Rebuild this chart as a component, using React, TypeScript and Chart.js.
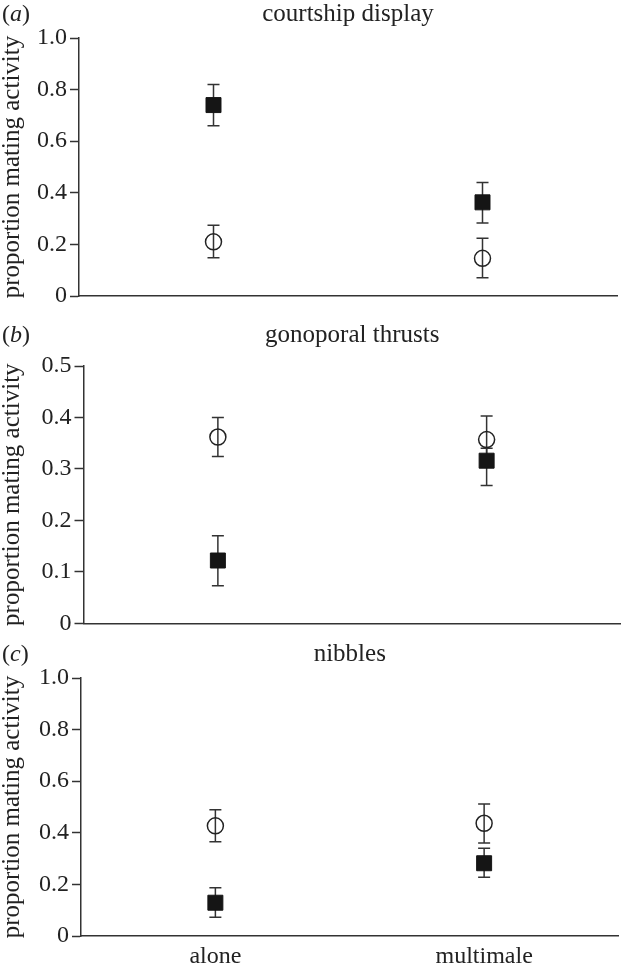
import React, { useEffect, useRef } from 'react';
import { Chart, registerables } from 'chart.js';

Chart.register(...registerables);

const FONT = "'Liberation Serif', 'Times New Roman', serif";

const categories = ['alone', 'multimale'];
const panelTitles = ['courtship display', 'gonoporal thrusts', 'nibbles'];
const panelLetters = ['a', 'b', 'c'];
const yAxisTitle = 'proportion mating activity';

// (a) courtship display
const courtshipFilled = [0.74, 0.363];
const courtshipFilledLow = [0.66, 0.283];
const courtshipFilledHigh = [0.82, 0.44];
const courtshipOpen = [0.21, 0.146];
const courtshipOpenLow = [0.148, 0.071];
const courtshipOpenHigh = [0.274, 0.224];

// (b) gonoporal thrusts
const thrustsFilled = [0.122, 0.316];
const thrustsFilledLow = [0.073, 0.268];
const thrustsFilledHigh = [0.17, 0.34];
const thrustsOpen = [0.362, 0.357];
const thrustsOpenLow = [0.324, 0.315];
const thrustsOpenHigh = [0.4, 0.403];

// (c) nibbles
const nibblesFilled = [0.129, 0.282];
const nibblesFilledLow = [0.073, 0.228];
const nibblesFilledHigh = [0.187, 0.34];
const nibblesOpen = [0.427, 0.437];
const nibblesOpenLow = [0.365, 0.36];
const nibblesOpenHigh = [0.489, 0.512];

const yMax = [1.0, 0.5, 1.0];
const yStep = [0.2, 0.1, 0.2];

const filledSeries = [
  [courtshipFilled, courtshipFilledLow, courtshipFilledHigh],
  [thrustsFilled, thrustsFilledLow, thrustsFilledHigh],
  [nibblesFilled, nibblesFilledLow, nibblesFilledHigh],
];
const openSeries = [
  [courtshipOpen, courtshipOpenLow, courtshipOpenHigh],
  [thrustsOpen, thrustsOpenLow, thrustsOpenHigh],
  [nibblesOpen, nibblesOpenLow, nibblesOpenHigh],
];

// layout geometry per panel (canvas-relative)
const geom = [
  { top: 0, h: 322, left: 79, right: 617, cTop: 38, cBottom: 296, titleBase: 21 },
  { top: 310, h: 332, left: 83.5, right: 621, cTop: 56, cBottom: 313.3, titleBase: 31.5 },
  { top: 630, h: 339, left: 81, right: 618.5, cTop: 48, cBottom: 306, titleBase: 30.5 },
];

const LINE = '#333';
const TEXT = '#222';

const errorBarPlugin = {
  id: 'errorBars',
  beforeDatasetsDraw(chart: any) {
    const { ctx, scales } = chart;
    const ys = scales.y;
    chart.data.datasets.forEach((ds: any, di: number) => {
      const meta = chart.getDatasetMeta(di);
      meta.data.forEach((pt: any, i: number) => {
        const x = pt.x;
        const yl = ys.getPixelForValue(ds.errLow[i]);
        const yh = ys.getPixelForValue(ds.errHigh[i]);
        ctx.save();
        ctx.strokeStyle = LINE;
        ctx.lineWidth = 1.5;
        ctx.beginPath();
        ctx.moveTo(x, yl);
        ctx.lineTo(x, yh);
        ctx.moveTo(x - 6, yl);
        ctx.lineTo(x + 6, yl);
        ctx.moveTo(x - 6, yh);
        ctx.lineTo(x + 6, yh);
        ctx.stroke();
        ctx.restore();
      });
    });
  },
};

function makeTitlePlugin(idx: number) {
  return {
    id: 'panelTitles' + idx,
    afterDraw(chart: any) {
      const { ctx, chartArea } = chart;
      const g = geom[idx];
      ctx.save();
      ctx.fillStyle = TEXT;
      ctx.textBaseline = 'alphabetic';
      ctx.font = `25px ${FONT}`;
      ctx.textAlign = 'center';
      ctx.fillText(panelTitles[idx], (chartArea.left + chartArea.right) / 2, g.titleBase);
      ctx.textAlign = 'left';
      let x = 2;
      ctx.font = `24px ${FONT}`;
      ctx.fillText('(', x, g.titleBase);
      x += ctx.measureText('(').width;
      ctx.font = `italic 24px ${FONT}`;
      ctx.fillText(panelLetters[idx], x, g.titleBase);
      x += ctx.measureText(panelLetters[idx]).width;
      ctx.font = `24px ${FONT}`;
      ctx.fillText(')', x, g.titleBase);
      ctx.restore();
    },
  };
}

function Panel({ idx }: { idx: number }) {
  const ref = useRef<HTMLCanvasElement>(null);
  useEffect(() => {
    const g = geom[idx];
    const isLast = idx === 2;
    const [fv, fl, fh] = filledSeries[idx];
    const [ov, ol, oh] = openSeries[idx];
    const chart = new Chart(ref.current!, {
      type: 'line',
      data: {
        labels: categories,
        datasets: [
          {
            data: fv,
            errLow: fl,
            errHigh: fh,
            showLine: false,
            pointStyle: 'rect',
            pointRadius: 10.6,
            pointBackgroundColor: '#151515',
            pointBorderColor: '#151515',
            pointBorderWidth: 1,
          } as any,
          {
            data: ov,
            errLow: ol,
            errHigh: oh,
            showLine: false,
            pointStyle: 'circle',
            pointRadius: 8,
            pointBackgroundColor: 'rgba(0,0,0,0)',
            pointBorderColor: '#222',
            pointBorderWidth: 1.5,
          } as any,
        ],
      },
      options: {
        responsive: false,
        animation: false,
        events: [],
        layout: {
          autoPadding: false,
          padding: { top: g.cTop, left: 0, right: 621 - g.right, bottom: 0 },
        },
        plugins: {
          legend: { display: false },
          title: { display: false },
          tooltip: { enabled: false },
        },
        scales: {
          x: {
            type: 'category',
            offset: true,
            grid: { display: false, drawTicks: false },
            border: { display: true, color: LINE, width: 1.5 },
            ticks: {
              display: isLast,
              color: TEXT,
              padding: 6,
              font: { family: FONT, size: 24 },
              maxRotation: 0,
            },
            afterFit(scale: any) {
              scale.height = g.h - g.cBottom;
            },
          },
          y: {
            min: 0,
            max: yMax[idx],
            grid: {
              display: true,
              drawOnChartArea: false,
              drawTicks: true,
              tickLength: 9,
              tickColor: LINE,
              tickWidth: 1.5,
            },
            border: { display: true, color: LINE, width: 1.5 },
            ticks: {
              stepSize: yStep[idx],
              color: TEXT,
              padding: 3,
              font: { family: FONT, size: 24, lineHeight: 1 },
              callback: (v: any) => (Math.abs(v) < 1e-9 ? '0' : Number(v).toFixed(1)),
            },
            title: {
              display: true,
              text: yAxisTitle,
              color: TEXT,
              padding: { top: 0, bottom: 0 },
              font: { family: FONT, size: 25, lineHeight: 1 },
            },
            afterFit(scale: any) {
              scale.width = g.left;
            },
          },
        },
      } as any,
      plugins: [errorBarPlugin, makeTitlePlugin(idx)],
    });
    return () => chart.destroy();
  }, [idx]);
  const g = geom[idx];
  return (
    <canvas
      ref={ref}
      width={621}
      height={g.h}
      style={{ position: 'absolute', left: 0, top: g.top, display: 'block' }}
    />
  );
}

export default function App() {
  return (
    <div style={{ position: 'absolute', left: 0, top: 0, width: 621, height: 969, background: '#fff' }}>
      <Panel idx={0} />
      <Panel idx={1} />
      <Panel idx={2} />
    </div>
  );
}
